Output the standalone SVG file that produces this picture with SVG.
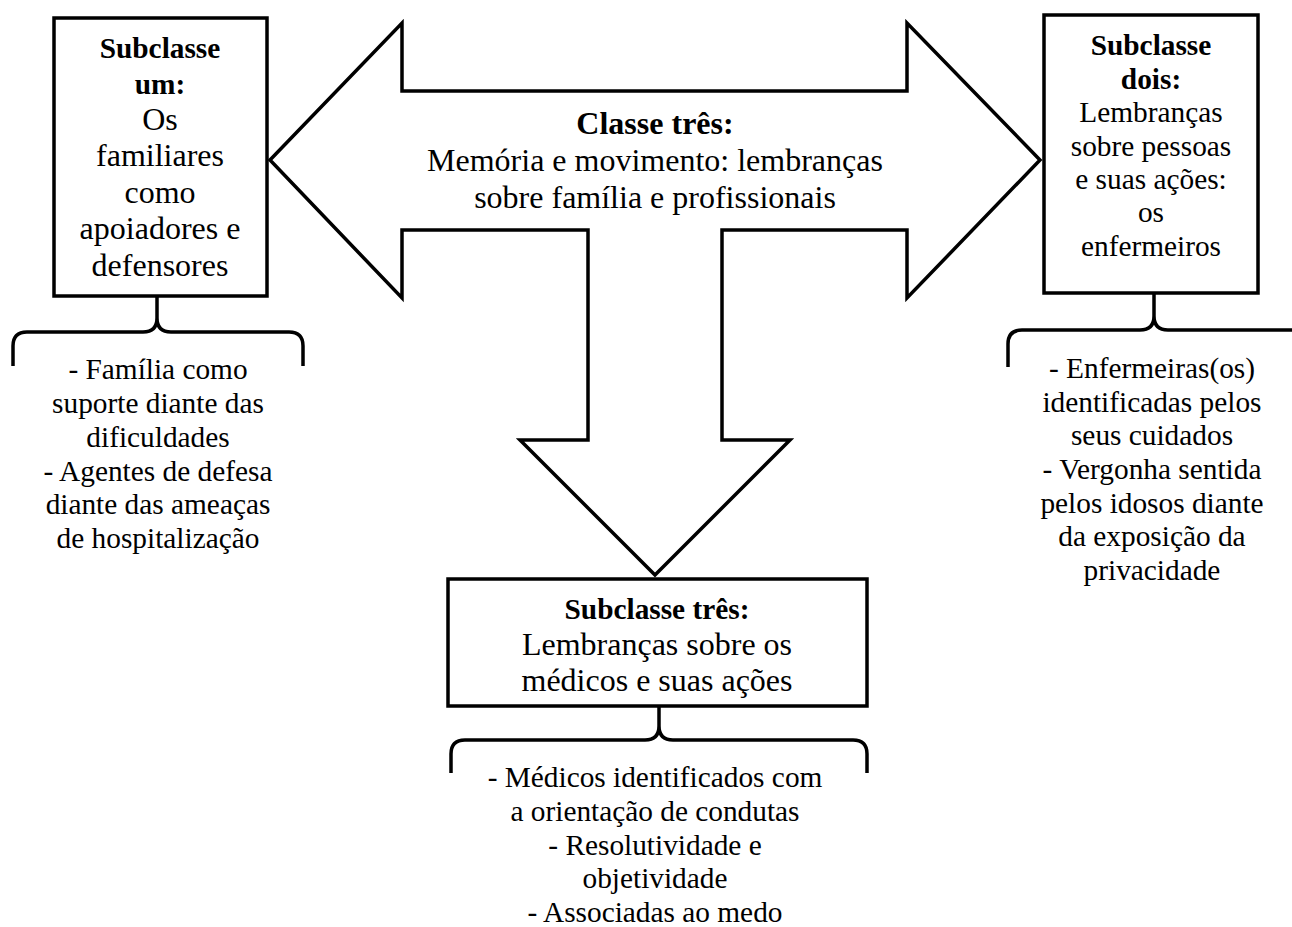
<svg xmlns="http://www.w3.org/2000/svg" width="1292" height="927" viewBox="0 0 1292 927">
  <style>
    .box { fill: #fff; stroke: #000; stroke-width: 3.5; }
    .arrow { fill: #fff; stroke: #000; stroke-width: 3.5; stroke-linejoin: miter; }
    .brace { fill: none; stroke: #000; stroke-width: 3.5; stroke-linecap: butt; }
    text { fill: #000; text-anchor: middle; }
    .b { font-weight: bold; font-size: 29.33px; }
    .r32 { font-size: 32px; }
    .b32 { font-weight: bold; font-size: 32px; }
    .r29 { font-size: 29.33px; }
  </style>
  <rect width="1292" height="927" fill="#fff"/>

  <g font-family="Liberation Serif, Times New Roman, Tinos, serif">
  <!-- central three-way arrow -->
  <g id="classe-tres">
    <polygon class="arrow" points="270,160 402,23 402,91 907,91 907,23 1040,160 907,298 907,230 722,230 722,440 790,440 655,575 520,440 588,440 588,230 402,230 402,298"/>
    <text x="655" y="134" class="b32">Classe três:</text>
    <text x="655" y="171" class="r32">Memória e movimento: lembranças</text>
    <text x="655" y="208" class="r32">sobre família e profissionais</text>
  </g>

  <!-- subclass boxes -->
  <g id="subclasse-um">
    <rect class="box" x="54" y="18" width="213" height="278"/>
    <text x="160" y="58" class="b">Subclasse</text>
    <text x="160" y="94" class="b">um:</text>
    <text x="160" y="130" class="r32">Os</text>
    <text x="160" y="166" class="r32">familiares</text>
    <text x="160" y="203" class="r32">como</text>
    <text x="160" y="239" class="r32">apoiadores e</text>
    <text x="160" y="276" class="r32">defensores</text>
  </g>

  <g id="subclasse-dois">
    <rect class="box" x="1044" y="15" width="214" height="278"/>
    <text x="1151" y="55" class="b">Subclasse</text>
    <text x="1151" y="88.5" class="b">dois:</text>
    <text x="1151" y="122" class="r29">Lembranças</text>
    <text x="1151" y="155.5" class="r29">sobre pessoas</text>
    <text x="1151" y="189" class="r29">e suas ações:</text>
    <text x="1151" y="222" class="r29">os</text>
    <text x="1151" y="255.5" class="r29">enfermeiros</text>
  </g>

  <g id="subclasse-tres">
    <rect class="box" x="448" y="579" width="419" height="127"/>
    <text x="657" y="619" class="b">Subclasse três:</text>
    <text x="657" y="655" class="r32">Lembranças sobre os</text>
    <text x="657" y="691" class="r32">médicos e suas ações</text>
  </g>

  <!-- braces linking each subclass to its items -->
  <g id="connectors">
    <path class="brace" d="M13,366 V346 Q13,332 27,332 H143 Q157,332 157,318 V296 M157,318 Q157,332 171,332 H289 Q303,332 303,346 V366"/>
    <path class="brace" d="M1008,367 V344 Q1008,330 1022,330 H1140 Q1154,330 1154,316 V293 M1154,316 Q1154,330 1168,330 H1300"/>
    <path class="brace" d="M451,773 V754 Q451,740 465,740 H645 Q659,740 659,726 V706 M659,726 Q659,740 673,740 H853 Q867,740 867,754 V773"/>
  </g>

  <!-- item lists -->
  <g id="itens-um">
    <text x="158" y="379" class="r29">- Família como</text>
    <text x="158" y="413" class="r29">suporte diante das</text>
    <text x="158" y="447" class="r29">dificuldades</text>
    <text x="158" y="481" class="r29">- Agentes de defesa</text>
    <text x="158" y="514" class="r29">diante das ameaças</text>
    <text x="158" y="548" class="r29">de hospitalização</text>
  </g>

  <g id="itens-dois">
    <text x="1152" y="378" class="r29">- Enfermeiras(os)</text>
    <text x="1152" y="412" class="r29">identificadas pelos</text>
    <text x="1152" y="445" class="r29">seus cuidados</text>
    <text x="1152" y="479" class="r29">- Vergonha sentida</text>
    <text x="1152" y="513" class="r29">pelos idosos diante</text>
    <text x="1152" y="546" class="r29">da exposição da</text>
    <text x="1152" y="580" class="r29">privacidade</text>
  </g>

  <g id="itens-tres">
    <text x="655" y="787" class="r29">- Médicos identificados com</text>
    <text x="655" y="821" class="r29">a orientação de condutas</text>
    <text x="655" y="855" class="r29">- Resolutividade e</text>
    <text x="655" y="888" class="r29">objetividade</text>
    <text x="655" y="922" class="r29">- Associadas ao medo</text>
  </g>
  </g>
</svg>
